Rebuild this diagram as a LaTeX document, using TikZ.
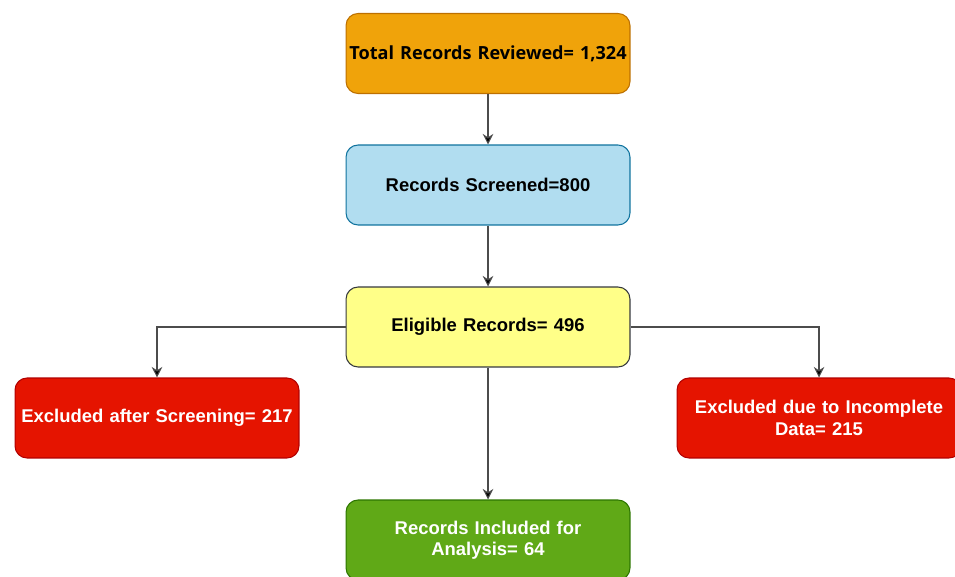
\documentclass[tikz,border=0pt]{standalone}
\usepackage{fontspec}
\setmainfont{Liberation Sans}
\newfontfamily\topfont{Open Sans}
\usetikzlibrary{arrows.meta}

\definecolor{orangefill}{HTML}{F0A30A}
\definecolor{orangeline}{HTML}{BD7000}
\definecolor{bluefill}{HTML}{B1DDF0}
\definecolor{blueline}{HTML}{10739E}
\definecolor{yellowfill}{HTML}{FFFF88}
\definecolor{yellowline}{HTML}{36393D}
\definecolor{redfill}{HTML}{E51400}
\definecolor{redline}{HTML}{B20000}
\definecolor{greenfill}{HTML}{60A917}
\definecolor{greenline}{HTML}{2D7600}

\begin{document}
\begin{tikzpicture}[x=0.02cm,y=-0.02cm,
  box/.style={draw, rounded corners=0.24cm, minimum width=5.68cm,
    minimum height=1.6cm, text width=5.6cm, inner xsep=0pt, align=center,
    font=\fontsize{10.5}{12.2}\selectfont\bfseries, line width=0.6pt},
  link/.style={draw=black!70, line width=0.6pt, -{Stealth[length=6pt,width=6pt,fill=black]}}]

  \useasboundingbox (0,0) rectangle (955,577);

  \node[box, fill=orangefill, draw=orangeline, font=\fontsize{10.3}{12}\topfont\bfseries]
    (total) at (488,53.5) {Total Records Reviewed= 1,324};
  \node[box, fill=bluefill, draw=blueline] (screened) at (488,185) {Records Screened=800};
  \node[box, fill=yellowfill, draw=yellowline] (eligible) at (488,327) {Eligible Records= 496};
  \node[box, fill=redfill, draw=redline, text=white] (exscreen) at (157,418)
    {Excluded after Screening= 217};
  \node[box, fill=redfill, draw=redline, text=white] (exdata) at (819,418)
    {Excluded due to Incomplete\\Data= 215};
  \node[box, fill=greenfill, draw=greenline, text=white] (included) at (488,540)
    {Records Included for\\Analysis= 64};

  \draw[link] (total) -- (screened);
  \draw[link] (screened) -- (eligible);
  \draw[link] (eligible.west) -| (exscreen.north);
  \draw[link] (eligible.east) -| (exdata.north);
  \draw[link] (eligible) -- (included);

\end{tikzpicture}
\end{document}
